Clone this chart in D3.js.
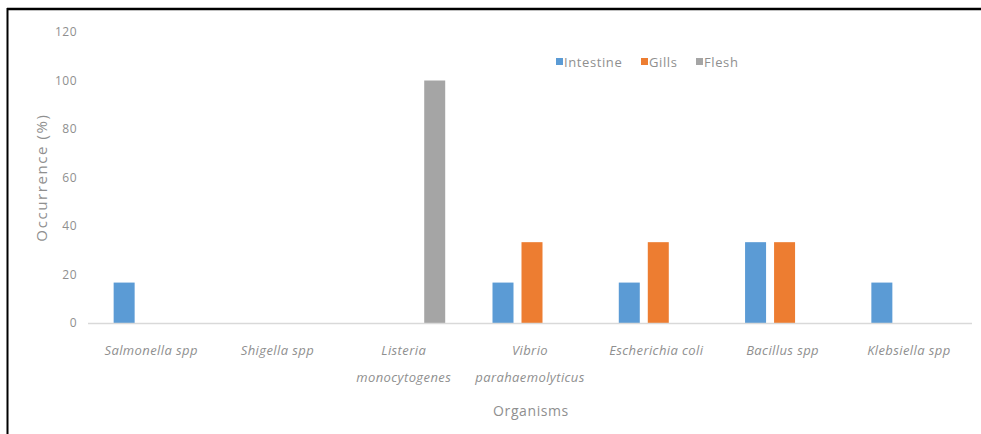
<!DOCTYPE html>
<html>
<head>
<meta charset="utf-8">
<script src="https://cdn.jsdelivr.net/npm/d3@7"></script>
<style>
  html, body { margin: 0; padding: 0; background: #fff; }
  svg { display: block; }
  text { font-family: "Open Sans", "Liberation Sans", sans-serif; fill: #7f7f7f; }
</style>
</head>
<body>
<svg id="chart" width="981" height="434"></svg>
<script>
// Occurrence (%) of each organism by sample site
const organisms = [
  ["Salmonella spp"],
  ["Shigella spp"],
  ["Listeria", "monocytogenes"],
  ["Vibrio", "parahaemolyticus"],
  ["Escherichia coli"],
  ["Bacillus spp"],
  ["Klebsiella spp"]
];
const seriesNames = ["Intestine", "Gills", "Flesh"];
const intestine = [16.67, 0, 0, 16.67, 16.67, 33.33, 16.67];
const gills     = [0, 0, 0, 33.33, 33.33, 33.33, 0];
const flesh     = [0, 0, 100, 0, 0, 0, 0];
const yTicks = [0, 20, 40, 60, 80, 100, 120];
const colors = ["#5b9bd5", "#ed7d31", "#a5a5a5"];

const seriesValues = [intestine, gills, flesh];
const svg = d3.select("#chart");
const textColor = "#8f8f8f";

// frame lines (top and left)
svg.append("line").attr("x1", 7).attr("x2", 981).attr("y1", 9).attr("y2", 9)
  .attr("stroke", "#000").attr("stroke-width", 2.5);
svg.append("line").attr("x1", 7.5).attr("x2", 7.5).attr("y1", 8).attr("y2", 434)
  .attr("stroke", "#000").attr("stroke-width", 2);

const plot = { left: 88, right: 972, top: 32, bottom: 323 };

const x = d3.scaleBand()
  .domain(d3.range(organisms.length))
  .range([plot.left, plot.right])
  .paddingInner(0).paddingOuter(0);

const y = d3.scaleLinear().domain([0, 120]).range([plot.bottom, plot.top]);

const barW = 21, barGap = 8;
const xs = d3.scaleBand().domain(d3.range(seriesNames.length))
  .range([0, 3 * barW + 2 * barGap]).paddingInner(barGap / (barW + barGap)).paddingOuter(0);
const groupW = 3 * barW + 2 * barGap;

// y axis tick labels
const yAxis = svg.append("g")
  .attr("transform", `translate(${plot.left - 10},0)`)
  .call(d3.axisLeft(y).tickValues(yTicks).tickSize(0).tickPadding(1));
yAxis.select(".domain").remove();
yAxis.selectAll("text")
  .style("font-size", "12px").style("fill", textColor)
  .style("letter-spacing", "0.5px")
  .style("font-family", "'Open Sans', sans-serif");

// bars
seriesValues.forEach((vals, si) => {
  svg.append("g").selectAll("rect")
    .data(vals.map((v, i) => ({ v, i })).filter(d => d.v > 0))
    .join("rect")
    .attr("x", d => x(d.i) + (x.bandwidth() - groupW) / 2 + xs(si) + 2)
    .attr("width", xs.bandwidth())
    .attr("y", d => y(d.v))
    .attr("height", d => y(0) - y(d.v))
    .attr("fill", colors[si]);
});

// baseline
svg.append("line")
  .attr("x1", plot.left).attr("x2", plot.right)
  .attr("y1", y(0) + 0.5).attr("y2", y(0) + 0.5)
  .attr("stroke", "#d9d9d9").attr("stroke-width", 1.5);

// category labels
const catG = svg.append("g");
organisms.forEach((lines, i) => {
  const t = catG.append("text")
    .attr("x", x(i) + x.bandwidth() / 2)
    .attr("y", 355)
    .attr("text-anchor", "middle")
    .style("font-size", "13px").style("font-style", "italic")
    .style("fill", textColor).style("letter-spacing", "0.4px");
  lines.forEach((ln, k) => {
    t.append("tspan").attr("x", x(i) + x.bandwidth() / 2)
      .attr("dy", k === 0 ? 0 : 27).text(ln);
  });
});

// axis titles
svg.append("text")
  .attr("x", 531).attr("y", 416)
  .attr("text-anchor", "middle")
  .style("font-size", "14px").style("fill", textColor)
  .style("letter-spacing", "0.6px")
  .text("Organisms");

svg.append("text")
  .attr("transform", `translate(47,${(plot.top + plot.bottom) / 2}) rotate(-90)`)
  .attr("text-anchor", "middle")
  .style("font-size", "15px").style("fill", textColor)
  .style("letter-spacing", "1.6px")
  .text("Occurrence (%)");

// legend
const legendItems = [
  { name: seriesNames[0], x: 556 },
  { name: seriesNames[1], x: 641 },
  { name: seriesNames[2], x: 696 }
];
const lg = svg.append("g");
legendItems.forEach((d, i) => {
  lg.append("rect").attr("x", d.x).attr("y", 58).attr("width", 7).attr("height", 7)
    .attr("fill", colors[i]);
  lg.append("text").attr("x", d.x + 8).attr("y", 67)
    .style("font-size", "13px").style("fill", textColor)
    .style("letter-spacing", "0.6px")
    .text(d.name);
});
</script>
</body>
</html>
